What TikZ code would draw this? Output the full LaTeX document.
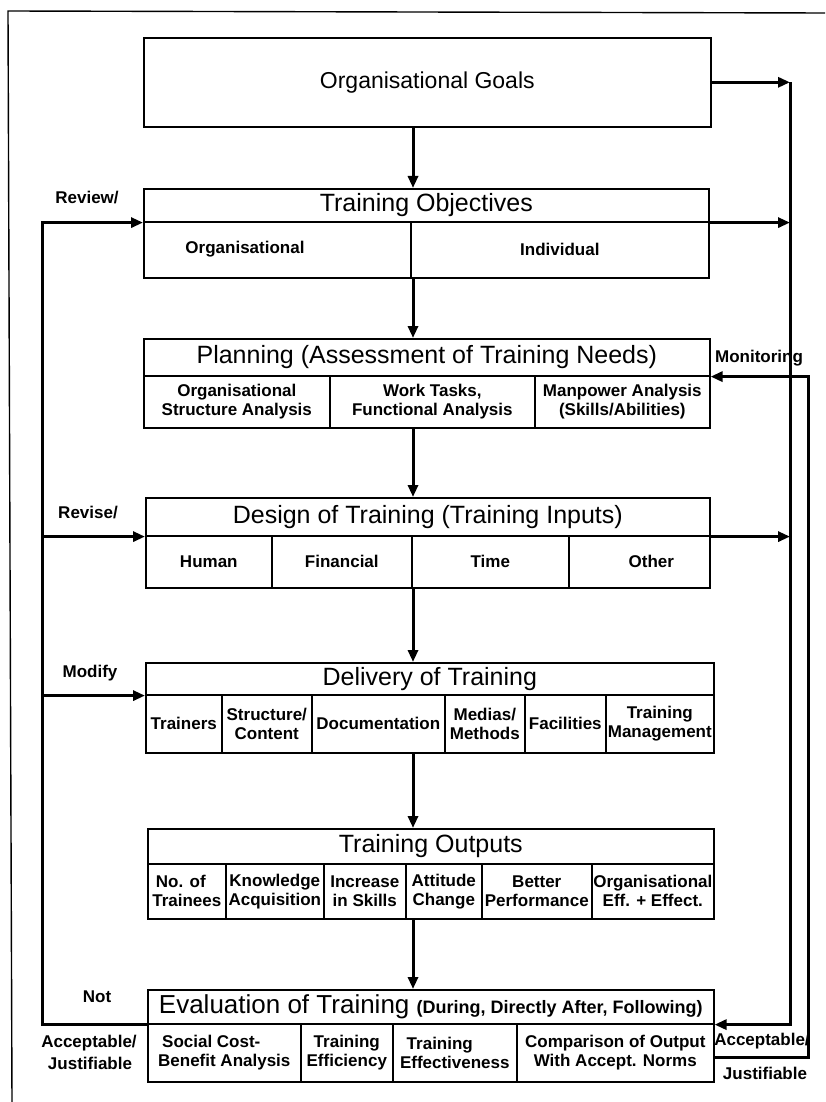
\documentclass[tikz,border=0pt]{standalone}
\usepackage{fontspec}
\setmainfont{Liberation Sans}
\usetikzlibrary{arrows.meta}
\newcommand\dgTitle{\fontsize{25}{28}\selectfont}
\newcommand\dgEval{\fontsize{26}{28}\selectfont}
\newcommand\dgGoal{\fontsize{23}{26}\selectfont}
\newcommand\dgCell{\bfseries\fontsize{17}{19}\selectfont}
\newcommand\dgParen{\bfseries\fontsize{18}{19}\selectfont}
\begin{document}
\begin{tikzpicture}[x=1pt,y=-1pt,
  box/.style={draw, line width=1.6pt, inner sep=0pt, anchor=north west, align=center},
  ttl/.style={box, font=\dgTitle},
  cell/.style={box, font=\dgCell},
  arr/.style={line width=3pt, line join=miter, -{Triangle[length=12pt,width=10pt]}},
  ln/.style={line width=3pt, line join=miter},
  lbl/.style={font=\dgCell, inner sep=0pt, align=center}]
\useasboundingbox (0,0) rectangle (825,1102);
% frame
\draw[line width=1.4pt] (12,1102) -- (8,11) -- (825,13);
% goals
\node[box, font=\dgGoal, minimum width=567pt, minimum height=89pt] (goals) at (143,37) {Organisational Goals};
% objectives
\node[ttl, minimum width=565pt, minimum height=33pt] (objT) at (143,188) {Training Objectives};
\node[cell, minimum width=267pt, minimum height=56pt] (objA) at (143,221) {};
\node[cell, minimum width=298pt, minimum height=56pt] (objB) at (410,221) {Individual};
\node[lbl] (objAl) at (245,249) {Organisational};
% planning
\node[ttl, minimum width=566pt, minimum height=37pt] (planT) at (143,338) {Planning (Assessment of Training Needs)};
\node[cell, minimum width=186pt, minimum height=52pt] (planA) at (143,375) {Organisational\\Structure Analysis};
\node[cell, minimum width=205pt, minimum height=52pt] (planB) at (329,375) {Work Tasks,\\Functional Analysis};
\node[cell, minimum width=175pt, minimum height=52pt] (planC) at (534,375) {Manpower Analysis\\(Skills/Abilities)};
% design
\node[ttl, minimum width=564pt, minimum height=38pt] (desT) at (145,497) {Design of Training (Training Inputs)};
\node[cell, minimum width=126pt, minimum height=52pt] (desA) at (145,535) {Human};
\node[cell, minimum width=140pt, minimum height=52pt] (desB) at (271,535) {Financial};
\node[cell, minimum width=157pt, minimum height=52pt] (desC) at (411,535) {Time};
\node[cell, minimum width=141pt, minimum height=52pt] (desD) at (568,535) {\hspace*{24pt}Other};
% delivery
\node[ttl, minimum width=568pt, minimum height=32pt] (delT) at (145,662) {Delivery of Training};
\node[cell, minimum width=76pt, minimum height=58pt] (delA) at (145,694) {Trainers};
\node[cell, minimum width=90pt, minimum height=58pt] (delB) at (221,694) {Structure/\\Content};
\node[cell, minimum width=133pt, minimum height=58pt] (delC) at (311,694) {Documentation};
\node[cell, minimum width=80pt, minimum height=58pt] (delD) at (444,694) {Medias/\\Methods};
\node[cell, minimum width=81pt, minimum height=58pt] (delE) at (524,694) {Facilities};
\node[cell, minimum width=108pt, minimum height=58pt] (delF) at (605,694) {Training\\Management};
% outputs
\node[ttl, minimum width=566pt, minimum height=35pt] (outT) at (147,828) {Training Outputs};
\node[cell, minimum width=78pt, minimum height=55pt] (outA) at (147,863) {No. of\hspace*{12pt}\\Trainees};
\node[cell, minimum width=98pt, minimum height=55pt] (outB) at (225,863) {Knowledge\\Acquisition};
\node[cell, minimum width=82pt, minimum height=55pt] (outC) at (323,863) {Increase\\in Skills};
\node[cell, minimum width=76pt, minimum height=55pt] (outD) at (405,863) {Attitude\\Change};
\node[cell, minimum width=110pt, minimum height=55pt] (outE) at (481,863) {Better\\Performance};
\node[cell, minimum width=122pt, minimum height=55pt] (outF) at (591,863) {Organisational\\Eff. + Effect.};
% evaluation
\node[box, font=\dgEval, minimum width=566pt, minimum height=34pt] (evT) at (147,989) {Evaluation of Training {\dgParen (During, Directly After, Following)}};
\node[cell, minimum width=153pt, minimum height=58pt, align=left] (evA) at (147,1023) {\hspace*{4pt}Social Cost-\\Benefit Analysis};
\node[cell, minimum width=92pt, minimum height=58pt] (evB) at (300,1023) {Training\\Efficiency};
\node[cell, minimum width=124pt, minimum height=58pt] (evC) at (392,1023) {Training\hspace*{30pt}\\Effectiveness};
\node[cell, minimum width=197pt, minimum height=58pt] (evD) at (516,1023) {Comparison of Output\\With Accept. Norms};
% side labels
\node[lbl] (lReview) at (87,198) {Review/};
\node[lbl] (lRevise) at (88,513) {Revise/};
\node[lbl] (lModify) at (90,673) {Modify};
\node[lbl] (lNot) at (97,997) {Not};
\node[lbl] (lAcc) at (89,1043) {Acceptable/};
\node[lbl] (lJus) at (90,1063) {Justifiable};
\node[lbl] (rMon) at (759,358) {Monitoring};
\node[lbl] (rAcc) at (762,1041) {Acceptable/};
\node[lbl] (rJus) at (765,1073) {Justifiable};
% helper positions
\coordinate (cx) at (413,0);
\coordinate (r1) at (790,0);
\coordinate (r2) at (808,0);
\coordinate (l1) at (42,0);
\coordinate (eo) at (713,1057);
% down arrows
\draw[arr] (goals.south -| cx) -- (objT.north -| cx);
\draw[arr] (objA.south -| cx) -- (planT.north -| cx);
\draw[arr] (planB.south -| cx) -- (desT.north -| cx);
\draw[arr] (desB.south -| cx) -- (delT.north -| cx);
\draw[arr] (delC.south -| cx) -- (outT.north -| cx);
\draw[arr] (outD.south -| cx) -- (evT.north -| cx);
% right inner loop
\draw[arr] (goals.east) -- (goals.east -| r1);
\draw[arr] (objT.south east) -- (objT.south east -| r1);
\draw[arr] (desT.south east) -- (desT.south east -| r1);
\draw[arr] (goals.east -| r1) -- (evT.south east -| r1) -- (evT.south east);
% right outer loop (monitoring)
\draw[arr] (eo) -- (eo -| r2) -- (planT.south east -| r2) -- (planT.south east);
% left loop
\draw[arr] (evT.south west) -- (evT.south west -| l1) -- (objT.south west -| l1) -- (objT.south west);
\draw[arr] (desT.south west -| l1) -- (desT.south west);
\draw[arr] (delT.south west -| l1) -- (delT.south west);
\end{tikzpicture}
\end{document}
